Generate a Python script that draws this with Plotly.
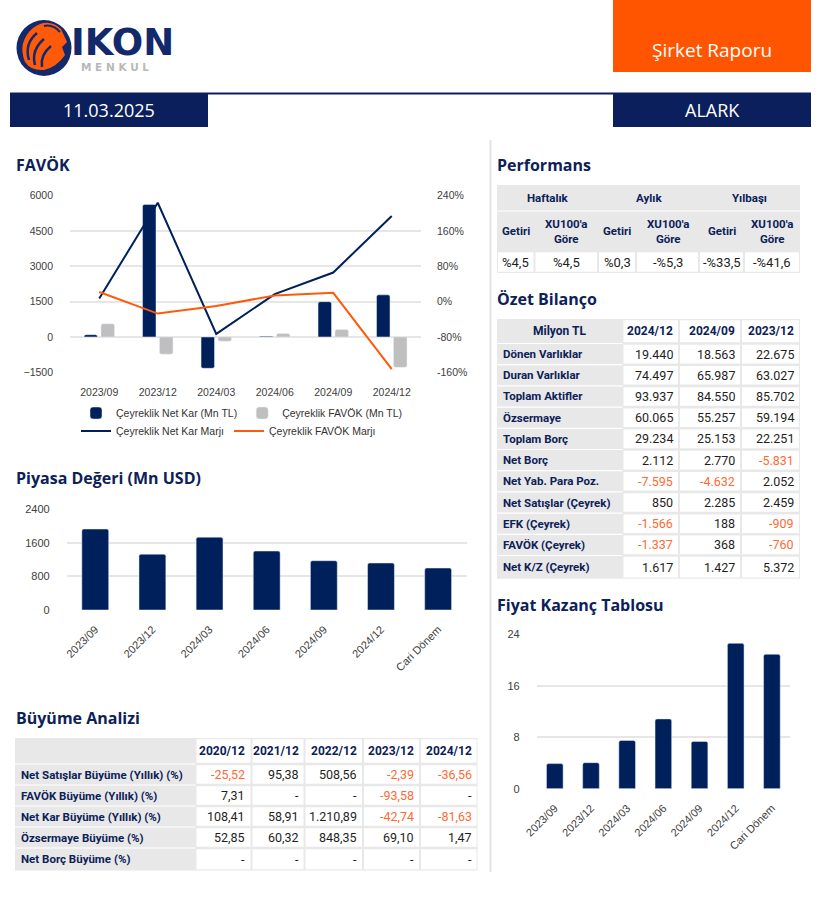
import plotly.graph_objects as go

W, H = 821, 899
def X(px): return px / W
def Y(py): return 1 - py / H

NAVY = "#0C2157"
BOX_NAVY = "#0B1F5C"
BAR_NAVY = "#00205B"
GRAY_BAR = "#BFBFBF"
ORANGE_LINE = "#FF5A0A"
ORANGE_BOX = "#FF5500"
NEG = "#FF6A33"
CELL_GRAY = "#E8E8E8"
TICK = "#404040"
TXT = "#1E1E1E"
TICKFONT = dict(family="Liberation Sans, Arial", size=11, color=TICK)
TICKFONT_S = dict(family="Liberation Sans, Arial", size=10.5, color=TICK)
TFONT = "Roboto"

# ---------------- data ----------------
favok_quarters = ["2023/09", "2023/12", "2024/03", "2024/06", "2024/09", "2024/12"]
net_kar = [100, 5630, -1330, 30, 1500, 1790]
favok = [560, -730, -180, 150, 320, -1290]
net_kar_marji = [7, 224, -73, 17, 66, 194]
favok_marji = [22, -27, -10, 14, 20, -153]
favok_left_ticks = [-1500, 0, 1500, 3000, 4500, 6000]
favok_right_ticks = [-160, -80, 0, 80, 160, 240]

periods = ["2023/09", "2023/12", "2024/03", "2024/06", "2024/09", "2024/12", "Cari Dönem"]
piyasa_degeri = [1930, 1330, 1735, 1405, 1175, 1120, 1000]
piyasa_ticks = [0, 800, 1600, 2400]
fk_values = [3.9, 4.05, 7.5, 10.85, 7.35, 22.6, 20.9]
fk_ticks = [0, 8, 16, 24]

perf_groups = ["Haftalık", "Aylık", "Yılbaşı"]
perf_headers = ["Getiri", "XU100'a<br>Göre", "Getiri", "XU100'a<br>Göre", "Getiri", "XU100'a<br>Göre"]
perf_values = ["%4,5", "%4,5", "%0,3", "-%5,3", "-%33,5", "-%41,6"]

bil_header = ["Milyon TL", "2024/12", "2024/09", "2023/12"]
bil_labels = ["Dönen Varlıklar", "Duran Varlıklar", "Toplam Aktifler", "Özsermaye", "Toplam Borç",
              "Net Borç", "Net Yab. Para Poz.", "Net Satışlar (Çeyrek)", "EFK (Çeyrek)",
              "FAVÖK (Çeyrek)", "Net K/Z (Çeyrek)"]
bil_2024_12 = ["19.440", "74.497", "93.937", "60.065", "29.234", "2.112", "-7.595", "850", "-1.566", "-1.337", "1.617"]
bil_2024_09 = ["18.563", "65.987", "84.550", "55.257", "25.153", "2.770", "-4.632", "2.285", "188", "368", "1.427"]
bil_2023_12 = ["22.675", "63.027", "85.702", "59.194", "22.251", "-5.831", "2.052", "2.459", "-909", "-760", "5.372"]

buy_header = ["", "2020/12", "2021/12", "2022/12", "2023/12", "2024/12"]
buy_labels = ["Net Satışlar Büyüme (Yıllık) (%)", "FAVÖK Büyüme (Yıllık) (%)", "Net Kar Büyüme (Yıllık) (%)",
              "Özsermaye Büyüme (%)", "Net Borç Büyüme (%)"]
buy_2020 = ["-25,52", "7,31", "108,41", "52,85", "-"]
buy_2021 = ["95,38", "-", "58,91", "60,32", "-"]
buy_2022 = ["508,56", "-", "1.210,89", "848,35", "-"]
buy_2023 = ["-2,39", "-93,58", "-42,74", "69,10", "-"]
buy_2024 = ["-36,56", "-", "-81,63", "1,47", "-"]

fig = go.Figure()

# ---------------- FAVÖK chart ----------------
fig.add_trace(go.Bar(x=favok_quarters, y=net_kar, name="Çeyreklik Net Kar (Mn TL)",
                     marker=dict(color=BAR_NAVY, cornerradius=2), width=0.23, offset=-0.26,
                     xaxis="x", yaxis="y", legend="legend"))
fig.add_trace(go.Bar(x=favok_quarters, y=favok, name="Çeyreklik FAVÖK (Mn TL)",
                     marker=dict(color=GRAY_BAR, cornerradius=2), width=0.23, offset=0.03,
                     xaxis="x", yaxis="y", legend="legend"))
fig.add_trace(go.Scatter(x=favok_quarters, y=net_kar_marji, name="Çeyreklik Net Kar Marjı", mode="lines",
                         line=dict(color=BAR_NAVY, width=2), xaxis="x", yaxis="y2", legend="legend2"))
fig.add_trace(go.Scatter(x=favok_quarters, y=favok_marji, name="Çeyreklik FAVÖK Marjı", mode="lines",
                         line=dict(color=ORANGE_LINE, width=2), xaxis="x", yaxis="y2", legend="legend2"))

# ---------------- Piyasa Değeri ----------------
fig.add_trace(go.Bar(x=periods, y=piyasa_degeri, marker=dict(color=BAR_NAVY, cornerradius=2),
                     width=0.47, xaxis="x3", yaxis="y3", showlegend=False))

# ---------------- Fiyat Kazanç ----------------
fig.add_trace(go.Bar(x=periods, y=fk_values, marker=dict(color=BAR_NAVY, cornerradius=2),
                     width=0.46, xaxis="x4", yaxis="y4", showlegend=False))

# ---------------- helpers ----------------
shapes = []
ann = []

def rect(x0, y0, x1, y1, color, layer="below"):
    shapes.append(dict(type="rect", xref="paper", yref="paper", x0=X(x0), x1=X(x1), y0=Y(y1), y1=Y(y0),
                       fillcolor=color, line=dict(width=0), layer=layer))

def path(pts, fill=None, stroke=None, width=0):
    d = ""
    for p in pts:
        if isinstance(p, str):
            d += p + " "
        else:
            d += "%.5f,%.5f " % (X(p[0]), Y(p[1]))
    shapes.append(dict(type="path", xref="paper", yref="paper", path=d.strip(), layer="above",
                       fillcolor=fill if fill else "rgba(0,0,0,0)",
                       line=dict(color=stroke if stroke else "rgba(0,0,0,0)", width=width)))

def text(x, y, s, size, color, family="Open Sans", bold_=False, xanchor="left"):
    ann.append(dict(x=X(x), y=Y(y), xref="paper", yref="paper", text=("<b>%s</b>" % s) if bold_ else s,
                    showarrow=False, xanchor=xanchor, yanchor="middle", borderpad=0,
                    font=dict(family=family, size=size, color=color)))

def draw_table(xe, ye, fills, texts, aligns, bolds, colors, sizes, pad=4):
    """xe: column edges (px), ye: row edges (px); fills[r][c] 'g' or 'w'."""
    rect(xe[0], ye[0], xe[-1], ye[-1], CELL_GRAY)
    nr, nc = len(ye) - 1, len(xe) - 1
    for r in range(nr):
        for c in range(nc):
            x0, x1, y0, y1 = xe[c], xe[c + 1], ye[r], ye[r + 1]
            if fills[r][c] == "w":
                rect(x0 + 1, y0 + 1.3, x1 - 1, y1 - 1.3, "white")
            elif r > 0 and fills[r - 1][c] == "g":
                rect(x0, y0 - 0.6, x1, y0 + 0.6, "white")
            s = texts[r][c]
            if not s:
                continue
            a = aligns[r][c]
            if a == "left":
                tx = x0 + pad + 1
            elif a == "right":
                tx = x1 - pad - 1
            else:
                tx = (x0 + x1) / 2
            text(tx, (y0 + y1) / 2, s, sizes[r][c], colors[r][c], family=TFONT,
                 bold_=bolds[r][c], xanchor=a)

def valcolor(s):
    return NEG if (s.startswith("-") and len(s) > 1) else TXT

# ---------------- header ----------------
rect(613, 0, 811, 72, ORANGE_BOX)
rect(10, 92.5, 811, 94.5, BOX_NAVY)
rect(10, 94, 208, 127, BOX_NAVY)
rect(613, 94, 811, 127, BOX_NAVY)
rect(489.5, 140, 491.5, 872, "#E3E3E3")

# logo
shapes.append(dict(type="circle", xref="paper", yref="paper", x0=X(16.5), x1=X(71.5), y0=Y(76), y1=Y(20),
                   fillcolor="#13296B", line=dict(width=0), layer="above"))
path(["M", (25, 62), "Q", (17, 42), (33, 28), "Q", (48, 17), (61, 29), "L", (67, 42), "L", (62, 47),
      "L", (65, 55), "Q", (57, 67), (44, 70), "Q", (31, 71), (25, 62), "Z"], fill="#FF5A0A")
path(["M", (29, 60), "Q", (24, 44), (37, 33)], stroke="#13296B", width=2.5)
path(["M", (35, 65), "Q", (31, 50), (44, 39)], stroke="#13296B", width=2.5)
path(["M", (42, 67), "Q", (40, 55), (51, 46)], stroke="#13296B", width=2.5)
path(["M", (44, 26), "Q", (53, 24), (60, 32)], stroke="#13296B", width=2)

text(70, 42, "IKON", 37, "#13296B", family="DejaVu Sans", bold_=True)
text(80, 67, "M E N K U L", 10.5, "#B8B8B8", family="DejaVu Sans", bold_=True)
text(712, 50, "Şirket Raporu", 19, "white", xanchor="center")
text(109, 110, "11.03.2025", 18, "white", xanchor="center")
text(712, 110, "ALARK", 18, "white", xanchor="center")

text(15, 165, "FAVÖK", 16, NAVY, bold_=True)
text(496, 165, "Performans", 16, NAVY, bold_=True)
text(496, 299, "Özet Bilanço", 16, NAVY, bold_=True)
text(15, 478, "Piyasa Değeri (Mn USD)", 16, NAVY, bold_=True)
text(15, 718, "Büyüme Analizi", 16, NAVY, bold_=True)
text(496, 605, "Fiyat Kazanç Tablosu", 16, NAVY, bold_=True)

# ---------------- Performans table ----------------
rect(497, 185, 800, 211, CELL_GRAY)
for g, cx in zip(perf_groups, [547.5, 648.5, 749.5]):
    text(cx, 198, g, 11.5, NAVY, family=TFONT, bold_=True, xanchor="center")
rect(497, 210.6, 800, 211.8, "white")
pxe = [497, 534.5, 598, 636, 699, 744, 800]
pye = [211.5, 251, 273]
draw_table(pxe, pye,
           fills=[["g"] * 6, ["w"] * 6],
           texts=[perf_headers, perf_values],
           aligns=[["center"] * 6, ["center"] * 6],
           bolds=[[True] * 6, [False] * 6],
           colors=[[NAVY] * 6, [TXT] * 6],
           sizes=[[11.5] * 6, [13] * 6])

# ---------------- Özet Bilanço table ----------------
bxe = [497, 622.5, 679, 741, 800]
bye = [319, 343.5] + [343.5 + 21.2 * (i + 1) for i in range(len(bil_labels))]
bye[-1] += 2
brows_t = [bil_header] + [[l, a, b, c] for l, a, b, c in zip(bil_labels, bil_2024_12, bil_2024_09, bil_2023_12)]
n = len(brows_t)
draw_table(bxe, bye,
           fills=[["g", "w", "w", "w"]] * n,
           texts=brows_t,
           aligns=[["center", "right", "right", "right"]] + [["left", "right", "right", "right"]] * (n - 1),
           bolds=[[True] * 4] + [[True, False, False, False]] * (n - 1),
           colors=[[NAVY] * 4] + [[NAVY] + [valcolor(v) for v in row[1:]] for row in brows_t[1:]],
           sizes=[[12] * 4] + [[11.5, 12.5, 12.5, 12.5]] * (n - 1))

# ---------------- Büyüme table ----------------
gxe = [15, 195.5, 251.5, 304.5, 363, 420, 477.5]
gye = [738, 764] + [764 + 21 * (i + 1) for i in range(len(buy_labels))]
gye[-1] += 1.5
grows_t = [buy_header] + [list(r) for r in zip(buy_labels, buy_2020, buy_2021, buy_2022, buy_2023, buy_2024)]
n = len(grows_t)
draw_table(gxe, gye,
           fills=[["g"] + ["w"] * 5] * n,
           texts=grows_t,
           aligns=[["left"] + ["right"] * 5] * n,
           bolds=[[True] * 6] + [[True] + [False] * 5] * (n - 1),
           colors=[[NAVY] * 6] + [[NAVY] + [valcolor(v) for v in row[1:]] for row in grows_t[1:]],
           sizes=[[12] * 6] + [[11.5] + [12.5] * 5] * (n - 1))

# ---------------- layout ----------------
grid = dict(showgrid=True, gridcolor="#E6E6E6", gridwidth=1.5, zeroline=False, showline=False, ticks="",
            tickfont=TICKFONT)
xcat = dict(type="category", showgrid=False, zeroline=False, showline=False, ticks="", tickfont=TICKFONT)
legfont = dict(family="Liberation Sans, Arial", size=10.5, color="#333333")

fig.update_layout(
    width=W, height=H, margin=dict(l=0, r=0, t=0, b=0, pad=0, autoexpand=False),
    paper_bgcolor="white", plot_bgcolor="rgba(0,0,0,0)",
    showlegend=True,
    xaxis=dict(xcat, domain=[X(70), X(421)], anchor="y", range=[-0.5, 5.5], ticklabelstandoff=12,
               automargin=False, tickfont=TICKFONT_S),
    yaxis=dict(grid, domain=[Y(372.3), Y(195.7)], anchor="x", range=[-1500, 6000],
               tickvals=favok_left_ticks, ticklabelstandoff=16, automargin=False, tickfont=TICKFONT_S),
    yaxis2=dict(domain=[Y(372.3), Y(195.7)], overlaying="y", side="right", anchor="x", range=[-160, 240],
                tickvals=favok_right_ticks, ticktext=["%d%%" % v for v in favok_right_ticks],
                showgrid=False, zeroline=False, showline=False, ticks="", tickfont=TICKFONT_S,
                ticklabelstandoff=15, automargin=False),
    xaxis3=dict(xcat, domain=[X(66.7), X(466.7)], anchor="y3", range=[-0.5, 6.5], tickangle=-45,
                ticklabelstandoff=10, automargin=False),
    yaxis3=dict(grid, domain=[Y(610), Y(509.3)], anchor="x3", range=[0, 2400], tickvals=piyasa_ticks,
                ticklabelstandoff=16, automargin=False),
    xaxis4=dict(xcat, domain=[X(536.7), X(790)], anchor="y4", range=[-0.5, 6.5], tickangle=-45,
                ticklabelstandoff=10, automargin=False),
    yaxis4=dict(grid, domain=[Y(788.7), Y(634.3)], anchor="x4", range=[0, 24], tickvals=fk_ticks,
                ticklabelstandoff=16, automargin=False),
    legend=dict(orientation="h", x=X(76), y=Y(413), xanchor="left", yanchor="middle",
                bgcolor="rgba(0,0,0,0)", font=legfont),
    legend2=dict(orientation="h", x=X(76), y=Y(431), xanchor="left", yanchor="middle",
                 bgcolor="rgba(0,0,0,0)", font=legfont),
    shapes=shapes, annotations=ann,
)

fig.write_html("out.html")
